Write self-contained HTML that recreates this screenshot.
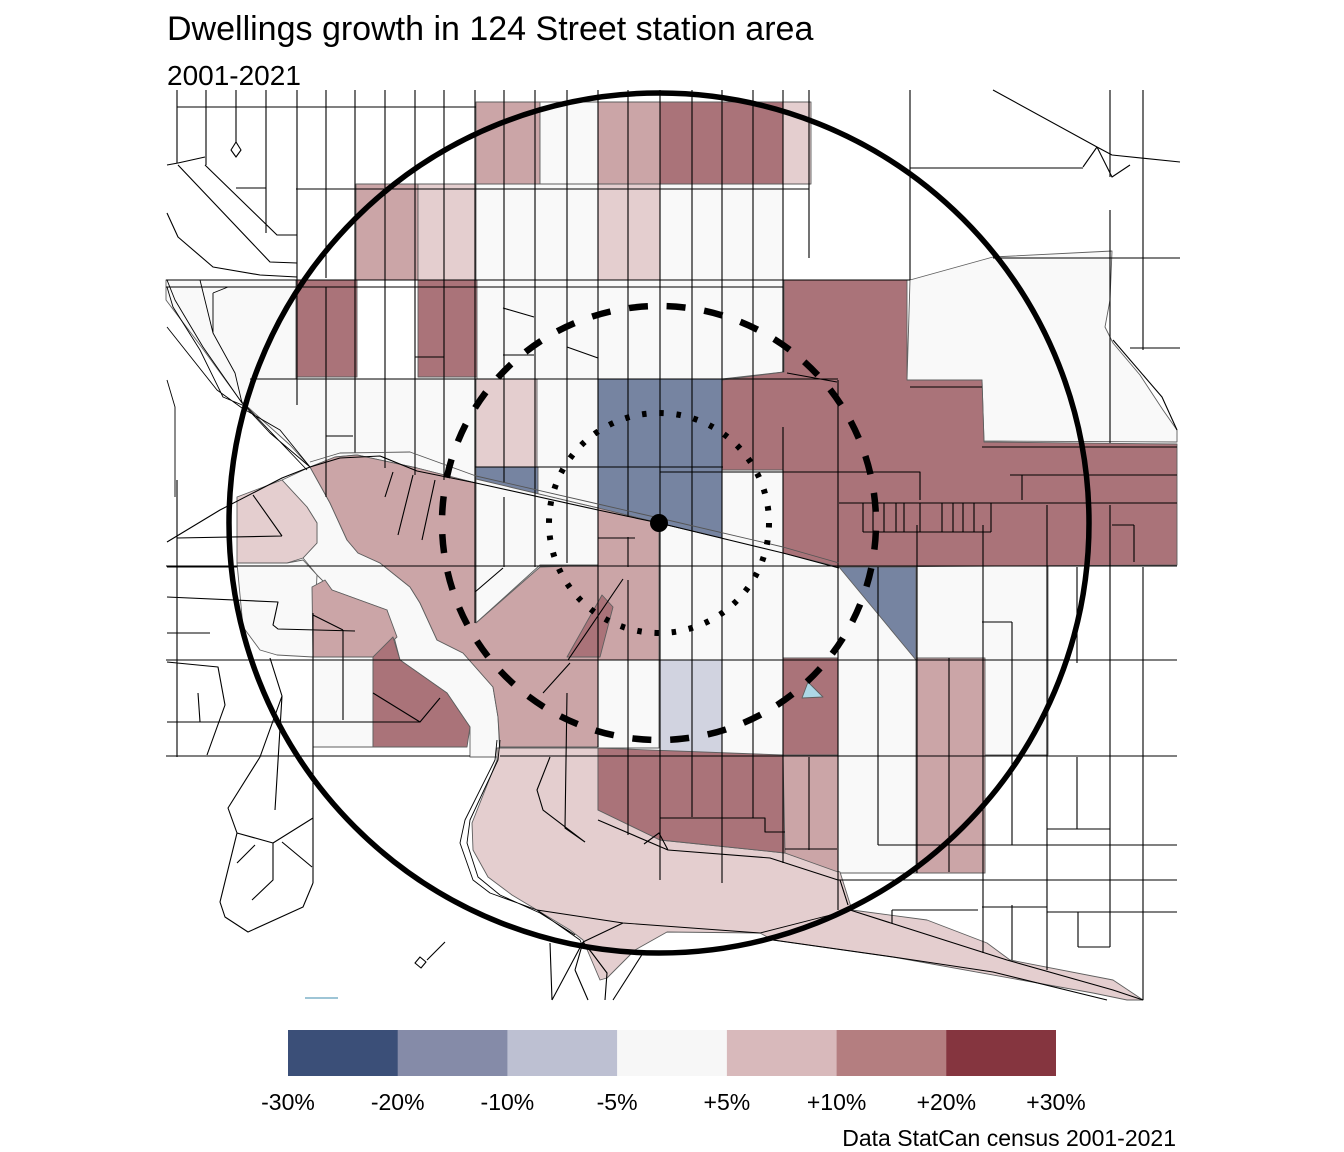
<!DOCTYPE html>
<html><head><meta charset="utf-8">
<style>
html,body{margin:0;padding:0;background:#fff;}
svg{display:block;}
text{font-family:"Liberation Sans",Arial,sans-serif;fill:#000;}
</style></head>
<body>
<svg width="1344" height="1152" viewBox="0 0 1344 1152" xmlns="http://www.w3.org/2000/svg">
<rect width="1344" height="1152" fill="#fff"/>
<text x="167" y="40" font-size="34">Dwellings growth in 124 Street station area</text>
<text x="167" y="85" font-size="28">2001-2021</text>

<g stroke="#5f5f5f" stroke-width="0.9" stroke-linejoin="round">
<polygon fill="#F9F9F9" points="166,280 296,280 296,379 476,379 476,483 417,468 357,455 335,457 310,467 290,445 240,400 200,345 166,300"/>
<polygon fill="#F9F9F9" points="282,480 310,467 330,503 347,540 358,553 380,563 410,587 420,603 437,640 463,653 493,687 498,717 500,757 470,757 470,727 447,693 400,660 387,610 332,590 317,575 303,558 317,543 317,523 307,507"/>
<polygon fill="#E4CECF" points="237,497 282,480 307,507 317,523 317,543 303,558 287,563 237,563"/>
<polygon fill="#F9F9F9" points="237,563 287,563 303,560 317,575 313,657 277,655 260,650 243,627"/>
<polygon fill="#CBA5A7" points="312,587 325,580 332,590 387,610 397,637 375,657 313,657"/>
<polygon fill="#F9F9F9" points="313,657 373,657 373,747 313,747"/>
<polygon fill="#AA7379" points="373,657 393,637 400,660 447,693 470,727 467,747 373,747"/>

<polygon fill="#CBA5A7" points="476,102 540,102 540,184 476,184"/>
<polygon fill="#F9F9F9" points="540,102 598,102 598,184 540,184"/>
<polygon fill="#CBA5A7" points="598,102 660,102 660,184 598,184"/>
<polygon fill="#AA7379" points="660,102 783,102 783,184 660,184"/>
<polygon fill="#E4CECF" points="783,102 811,102 811,184 783,184"/>
<polygon fill="#CBA5A7" points="356,184 418,184 418,280 356,280"/>
<polygon fill="#E4CECF" points="418,184 476,184 476,280 418,280"/>
<polygon fill="#F9F9F9" points="476,184 598,184 598,280 476,280"/>
<polygon fill="#E4CECF" points="598,184 660,184 660,280 598,280"/>
<polygon fill="#F9F9F9" points="660,184 783,184 783,280 660,280"/>
<polygon fill="#AA7379" points="296,280 357,280 357,377 296,377"/>
<polygon fill="#AA7379" points="418,280 477,280 477,377 418,377"/>
<polygon fill="#F9F9F9" points="477,280 784,280 784,372 722,379 477,379"/>

<polygon fill="#F9F9F9" points="659,523 722,538 722,470 783,470 783,553 839,567 1048,565 1048,755 985,755 985,873 838,873 838,755 660,755"/>
<polygon fill="#F9F9F9" points="910,280 993,257 1112,251 1110,300 1105,327 1113,343 1140,375 1163,410 1177,430 1177,442 984,441 982,380 907,380"/>
<polygon fill="#AA7379" points="784,280 907,280 907,380 982,380 984,442 1177,444 1177,565 839,567 783,553 783,470 722,470 722,380 784,372"/>

<polygon fill="#E4CECF" points="476,379 537,379 537,467 476,467"/>
<polygon fill="#F9F9F9" points="537,379 598,379 598,508 537,494"/>
<polygon fill="#7684A1" points="598,379 722,379 722,538 659,523 598,508"/>
<polygon fill="#7684A1" points="476,467 538,467 538,494 476,479"/>
<polygon fill="#F9F9F9" points="476,479 598,508 598,565 540,565 476,623"/>
<polygon fill="#CBA5A7" points="310,467 335,457 357,455 417,468 476,483 476,623 540,567 598,565 598,508 659,523 659,660 598,660 598,747 500,747 498,717 493,687 463,653 437,640 420,603 410,587 380,563 358,553 347,540 330,503"/>
<polygon fill="#AA7379" points="567,657 602,595 613,607 600,657"/>
<polygon fill="#F9F9F9" points="598,660 659,660 659,748 598,748"/>
<polygon fill="#7684A1" points="839,567 916,567 916,660"/>
<polygon fill="#D1D3E0" points="660,660 722,660 722,753 660,753"/>
<polygon fill="#AA7379" points="783,658 838,658 838,755 783,755"/>
<polygon fill="#CBA5A7" points="916,658 985,658 985,873 916,873"/>
<polygon fill="#ADD8E6" points="802,698 808,682 823,697"/>

<polygon fill="#E4CECF" points="497,748 598,748 598,810 660,840 785,853 840,872 852,910 927,920 987,943 1010,960 1113,980 1143,1000 1127,1000 1093,993 893,957 773,940 760,933 667,932 635,950 607,978 600,980 583,940 570,930 537,910 512,895 488,877 473,850 472,823 497,760"/>
<polygon fill="#AA7379" points="598,748 783,755 785,853 660,840 598,810"/>
<polygon fill="#CBA5A7" points="783,755 838,755 838,872 785,853"/>
</g>

<g fill="none" stroke="#000" stroke-width="1.1" stroke-linejoin="round">
<path d="M177,90V163 M206,90V165 M236,90V142 M266,90V233 M297,90V405 M326,90V278 M326,287V497 M355,90V453 M385,90V468 M415,90V475 M444,90V480 M475,90V623 M504,90V483 M504,497V567 M535,90V567 M567,90V563 M598,90V747 M628,90V517 M628,537V567 M628,580V835 M660,90V880 M692,90V817 M722,90V883 M753,90V818 M783,90V372 M783,427V863 M809,90V258 M809,757V850 M838,380V910 M878,567V845 M910,90V280 M917,525V873 M949,658V872 M983,525V953 M1012,622V845 M1012,905V960 M1022,475V500 M1047,505V970 M1077,567V663 M1077,757V829 M1078,912V947 M1110,90V177 M1110,210V443 M1110,505V947 M1143,90V350 M1143,567V1000 M1134,525V562"/>
<path d="M177,107H476 M296,189H809 M910,168H1083 M166,280H910 M166,287H783 M993,258H1180 M250,379H838 M910,387H982 M982,447H1177 M660,472H920V500 M1010,475H1177 M475,467H723 M839,503H1177 M863,532H991 M1112,525H1134 M166,566H1177 M982,622H1012 M166,660H1177 M166,756H470 M500,756H1177 M1047,829H1110 M878,845H1177 M838,880H1177 M892,910H978 M892,910V923 M982,907H1047 M1047,912H1177 M1078,947H1110 M598,538H635 M326,436H353 M415,357H444 M503,355H534 M1130,348H1180 M660,818H765V832H785 M785,849H837"/>
<path d="M863,503V532 M873,503V532 M884,503V532 M896,503V532 M904,503V532 M920,503V532 M942,503V532 M953,503V532 M963,503V532 M974,503V532 M991,503V532"/>
<path d="M167,542L220,510L282,478L310,467L340,458L380,456L417,471L476,483L598,510L659,523L783,553L839,568"/>
<path stroke="#555" stroke-width="0.9" d="M310,462L340,453L410,452L476,476L598,504L659,518L783,547L839,563"/>
<path d="M167,165L178,163L205,157 M178,165L270,262L297,263 M205,165L277,235L297,235 M167,213L178,237L213,267L260,275L297,277 M236,188H266 M231,150L236,142L241,150L236,157Z"/>
<path stroke-width="0.9" d="M167,280L175,300L203,347L242,403L270,433L310,467 M167,287L173,307L200,350L223,397L247,407L307,470 M167,327L217,390L242,408L280,430L310,467 M167,380L175,407L175,497 M200,280L213,333L235,373L242,403 M213,293L228,287 M213,333V293"/>
<path d="M393,472L385,497 M413,475L398,535 M435,480L422,540 M503,308L534,317 M567,347L598,358 M475,592L503,568"/>
<path d="M993,90L1097,147 M1097,147L1083,167 M1097,147L1112,177L1130,165 M1097,147L1112,155L1180,162 M787,373L837,382 M1113,340L1162,397L1177,430"/>
<path d="M623,579L568,660 M570,663L543,693 M567,693L565,828L585,842 M550,757L537,790L543,810L585,842 M598,820L668,850L770,858L838,880 M644,844L659,833L668,850 M848,905L840,880 M850,910L1007,960L1113,990L1143,1000 M773,940L900,958L993,972L1107,1000"/>
<path stroke-width="0.9" d="M497,740L495,760L465,820L460,843L473,880L490,893L537,910L580,940L583,947 M500,740L498,760L470,820L467,843L478,877L500,895L540,913L575,935 M537,910L623,923L760,933L850,910"/>
<path d="M583,942L552,1000 M575,970L588,1000 M583,942L575,970 M583,942L592,953L607,973L605,1000 M613,1000L643,953 M583,942L623,923 M550,943L552,1000"/>
<path d="M177,480V757 M177,538L282,536 M253,495L282,536 M167,567H237 M167,597L278,602L273,625L278,629L355,631 M313,615L343,630 M343,630V720 M167,633H210 M167,662L218,667L225,705L207,755 M198,693L200,722 M167,722H420 M373,693L420,722L440,698 M270,658L282,696L260,757 M313,613V883 M313,883L303,907L248,932L225,917L220,902L237,833L228,808L260,757 M282,696L275,810 M237,833L273,843L313,818 M273,843V880L252,900 M282,842L312,867 M255,845L237,863 M427,960L445,942 M415,963L420,957L426,962L421,968Z"/>
</g>
<path d="M305,998H338" stroke="#7fb2c8" stroke-width="1.5"/>

<g fill="none" stroke="#000">
<circle cx="659" cy="523" r="430" stroke-width="5.5"/>
<circle cx="659" cy="523" r="217" stroke-width="6.5" stroke-dasharray="19 18.87" transform="rotate(-88 659 523)"/>
<circle cx="659" cy="523" r="110" stroke-width="6" stroke-dasharray="4.5 12.78"/>
</g>
<circle cx="659" cy="523" r="9" fill="#000"/>

<rect x="288" y="1030" width="110" height="46" fill="#3B4F78"/>
<rect x="397.7" y="1030" width="110" height="46" fill="#858BA8"/>
<rect x="507.4" y="1030" width="110" height="46" fill="#BDC0D2"/>
<rect x="617.1" y="1030" width="110" height="46" fill="#F7F7F7"/>
<rect x="726.9" y="1030" width="110" height="46" fill="#D8B9BB"/>
<rect x="836.6" y="1030" width="110" height="46" fill="#B47E80"/>
<rect x="946.3" y="1030" width="109.7" height="46" fill="#85353F"/>
<g font-size="23" text-anchor="middle">
<text x="288" y="1110">-30%</text>
<text x="397.7" y="1110">-20%</text>
<text x="507.4" y="1110">-10%</text>
<text x="617.1" y="1110">-5%</text>
<text x="726.9" y="1110">+5%</text>
<text x="836.6" y="1110">+10%</text>
<text x="946.3" y="1110">+20%</text>
<text x="1056" y="1110">+30%</text>
</g>
<text x="1176" y="1146" font-size="23" text-anchor="end">Data StatCan census 2001-2021</text>
</svg>
</body></html>
